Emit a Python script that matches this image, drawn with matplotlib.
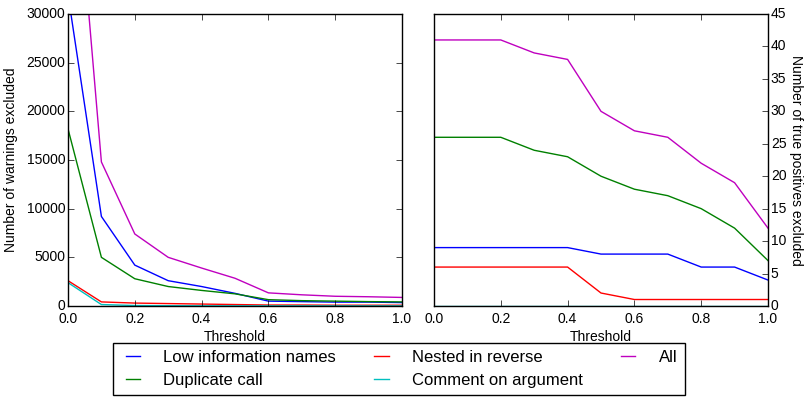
import numpy as np
import matplotlib
matplotlib.use('Agg')
import matplotlib.pyplot as plt

plt.style.use('classic')
plt.rcParams['font.family'] = ['Liberation Sans', 'DejaVu Sans']
plt.rcParams['figure.facecolor'] = 'white'

thresholds = [0.0, 0.1, 0.2, 0.3, 0.4, 0.5, 0.6, 0.7, 0.8, 0.9, 1.0]
labels = ['Low information names', 'Duplicate call', 'Nested in reverse',
          'Comment on argument', 'All']
colours = ['b', 'g', 'r', 'c', 'm']

# warnings excluded (left)
warn_low_info = [32000, 9200, 4200, 2600, 2000, 1300, 500, 450, 400, 400, 350]
warn_duplicate = [18200, 5000, 2800, 2000, 1600, 1250, 650, 550, 500, 450, 420]
warn_nested = [2600, 420, 300, 250, 200, 150, 100, 100, 80, 80, 80]
warn_comment = [2400, 150, 50, 30, 20, 15, 10, 10, 10, 10, 10]
warn_all = [55200, 14800, 7400, 5000, 3900, 2850, 1350, 1150, 1000, 950, 880]

# true positives excluded (right)
tp_low_info = [9, 9, 9, 9, 9, 8, 8, 8, 6, 6, 4]
tp_duplicate = [26, 26, 26, 24, 23, 20, 18, 17, 15, 12, 7]
tp_nested = [6, 6, 6, 6, 6, 2, 1, 1, 1, 1, 1]
tp_comment = [0, 0, 0, 0, 0, 0, 0, 0, 0, 0, 0]
tp_all = [41, 41, 41, 39, 38, 30, 27, 26, 22, 19, 12]

warn_series = [warn_low_info, warn_duplicate, warn_nested, warn_comment, warn_all]
tp_series = [tp_low_info, tp_duplicate, tp_nested, tp_comment, tp_all]

fig = plt.figure(figsize=(8.07, 3.97), dpi=100)
ax1 = fig.add_axes([68/807, 1-306/397, 334/807, 292/397])
ax2 = fig.add_axes([434/807, 1-306/397, 334/807, 292/397])

lines = []
for vals, lab, col in zip(warn_series, labels, colours):
    ln, = ax1.plot(thresholds, vals, color=col, label=lab, linewidth=1.0)
    lines.append(ln)
for vals, lab, col in zip(tp_series, labels, colours):
    ax2.plot(thresholds, vals, color=col, linewidth=1.0)

ax1.set_xlim(0, 1)
ax1.set_ylim(0, 30000)
ax1.set_xlabel('Threshold', fontsize=10, labelpad=3)
ax1.set_ylabel('Number of warnings excluded', fontsize=10, labelpad=6)

ax2.set_xlim(0, 1)
ax2.set_ylim(0, 45)
ax2.yaxis.tick_right()
ax2.yaxis.set_label_position('right')
ax2.set_xlabel('Threshold', fontsize=10, labelpad=3)
ax2.set_ylabel('Number of true positives excluded', fontsize=10,
               rotation=270, labelpad=12)

for ax in (ax1, ax2):
    ax.tick_params(labelsize=10)
    ax.tick_params(axis='y', pad=2)

fig.legend(lines, labels, ncol=3, loc='lower center',
           bbox_to_anchor=(399/807, 2/397),
           fontsize=12, handlelength=1.45, handletextpad=1.1,
           columnspacing=2.0, labelspacing=0.45, borderpad=0.45,
           borderaxespad=0, fancybox=False)

fig.savefig('out.png', dpi=100)
